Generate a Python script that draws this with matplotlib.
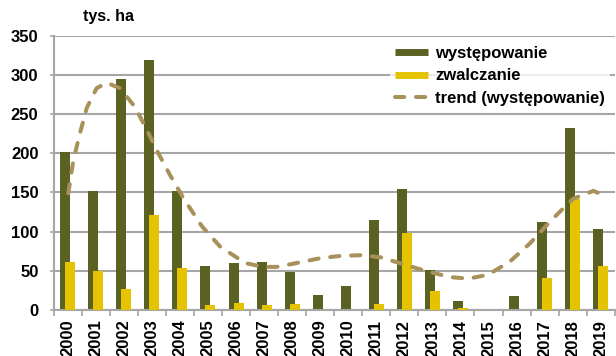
import numpy as np
import matplotlib
matplotlib.use("Agg")
import matplotlib.pyplot as plt
from matplotlib.lines import Line2D

years = [str(y) for y in range(2000, 2020)]
wystepowanie = [202, 152, 295, 319, 152, 56, 60, 61, 49, 19,
                31, 115, 155, 51, 11, 1, 18, 112, 232, 103]
zwalczanie = [61, 50, 27, 121, 54, 6, 9, 6, 8, 0,
              0, 8, 98, 24, 3, 0, 0, 41, 141, 56]

# trend line (position in years from 2000, value)
trend_pos = [0.02, 0.20, 0.44, 0.68, 1.03, 1.39, 1.86, 2.40, 2.82, 3.23,
             3.65, 4.12, 4.78, 5.43, 6.32, 6.96, 7.45, 8.03, 8.99, 9.71,
             10.48, 11.19, 12.09, 12.74, 13.63, 14.28, 14.99, 15.77, 16.48,
             17.25, 18.02, 18.74, 19.0]
trend_val = [149, 191, 226, 258, 283, 290, 283, 259, 230, 200,
             172, 143, 107, 81, 60, 55, 55, 59, 66, 69,
             70, 67, 57, 50, 42, 40, 45, 62, 85,
             115, 142, 152, 148]

c_dark = '#5b6120'
c_yellow = '#e6c300'
c_trend = '#a8925a'
c_grid = '#a6a6a6'

plt.rcParams['font.family'] = ['Liberation Sans', 'DejaVu Sans']
plt.rcParams['font.weight'] = 'bold'

fig = plt.figure(figsize=(6.16, 3.56), dpi=100)
ax = fig.add_axes([53.7 / 616, 46 / 356, 561 / 616, 274.3 / 356])

x = np.arange(len(years))
w = 0.357
ax.bar(x - 0.089, wystepowanie, width=w, color=c_dark, zorder=2)
ax.bar(x + 0.089, zwalczanie, width=w, color=c_yellow, zorder=3)
ax.plot(trend_pos, trend_val, color=c_trend, lw=2.9, dashes=(2.3, 2.9),
        dash_capstyle='round', solid_joinstyle='round', zorder=4)

ax.set_xlim(-0.5, len(years) - 0.5)
ax.set_ylim(0, 350)
ax.set_yticks(np.arange(0, 351, 50))
ax.grid(axis='y', color=c_grid, lw=1.5, zorder=0)
ax.set_axisbelow(True)

ax.set_xticks(x)
ax.set_xticklabels(years, rotation=90, fontsize=12, fontweight='bold')
ax.set_xticks(np.arange(-0.5, len(years)), minor=True)
ax.tick_params(axis='x', which='major', length=0, pad=7)
ax.tick_params(axis='x', which='minor', length=4, color=c_grid, width=1.2)
ax.tick_params(axis='y', length=3, color=c_grid, width=1.2, pad=8, labelsize=12)
for lbl in ax.get_yticklabels():
    lbl.set_fontweight('bold')

for s in ['top', 'right']:
    ax.spines[s].set_visible(False)
for s in ['left', 'bottom']:
    ax.spines[s].set_color(c_grid)
    ax.spines[s].set_linewidth(1.5)

fig.text(83 / 616, 1 - 17 / 356, 'tys. ha', fontsize=11.5, fontweight='bold', va='center')

handles = [Line2D([], [], color=c_dark, lw=5, solid_capstyle='butt'),
           Line2D([], [], color=c_yellow, lw=5, solid_capstyle='butt'),
           Line2D([], [], color=c_trend, lw=2.9, dashes=(2.3, 2.9), dash_capstyle='round')]
labels = ['występowanie', 'zwalczanie', 'trend (występowanie)']
leg = fig.legend(handles, labels, loc='upper left', bbox_to_anchor=(390 / 616, 1 - 41 / 356),
                 fontsize=12, frameon=True, fancybox=False, borderaxespad=0, borderpad=0.3,
                 handlelength=2.0, handletextpad=0.4, labelspacing=0.45)
leg.get_frame().set_facecolor('white')
leg.get_frame().set_edgecolor('none')
for t in leg.get_texts():
    t.set_fontweight('bold')

fig.savefig('out.png', dpi=100)
